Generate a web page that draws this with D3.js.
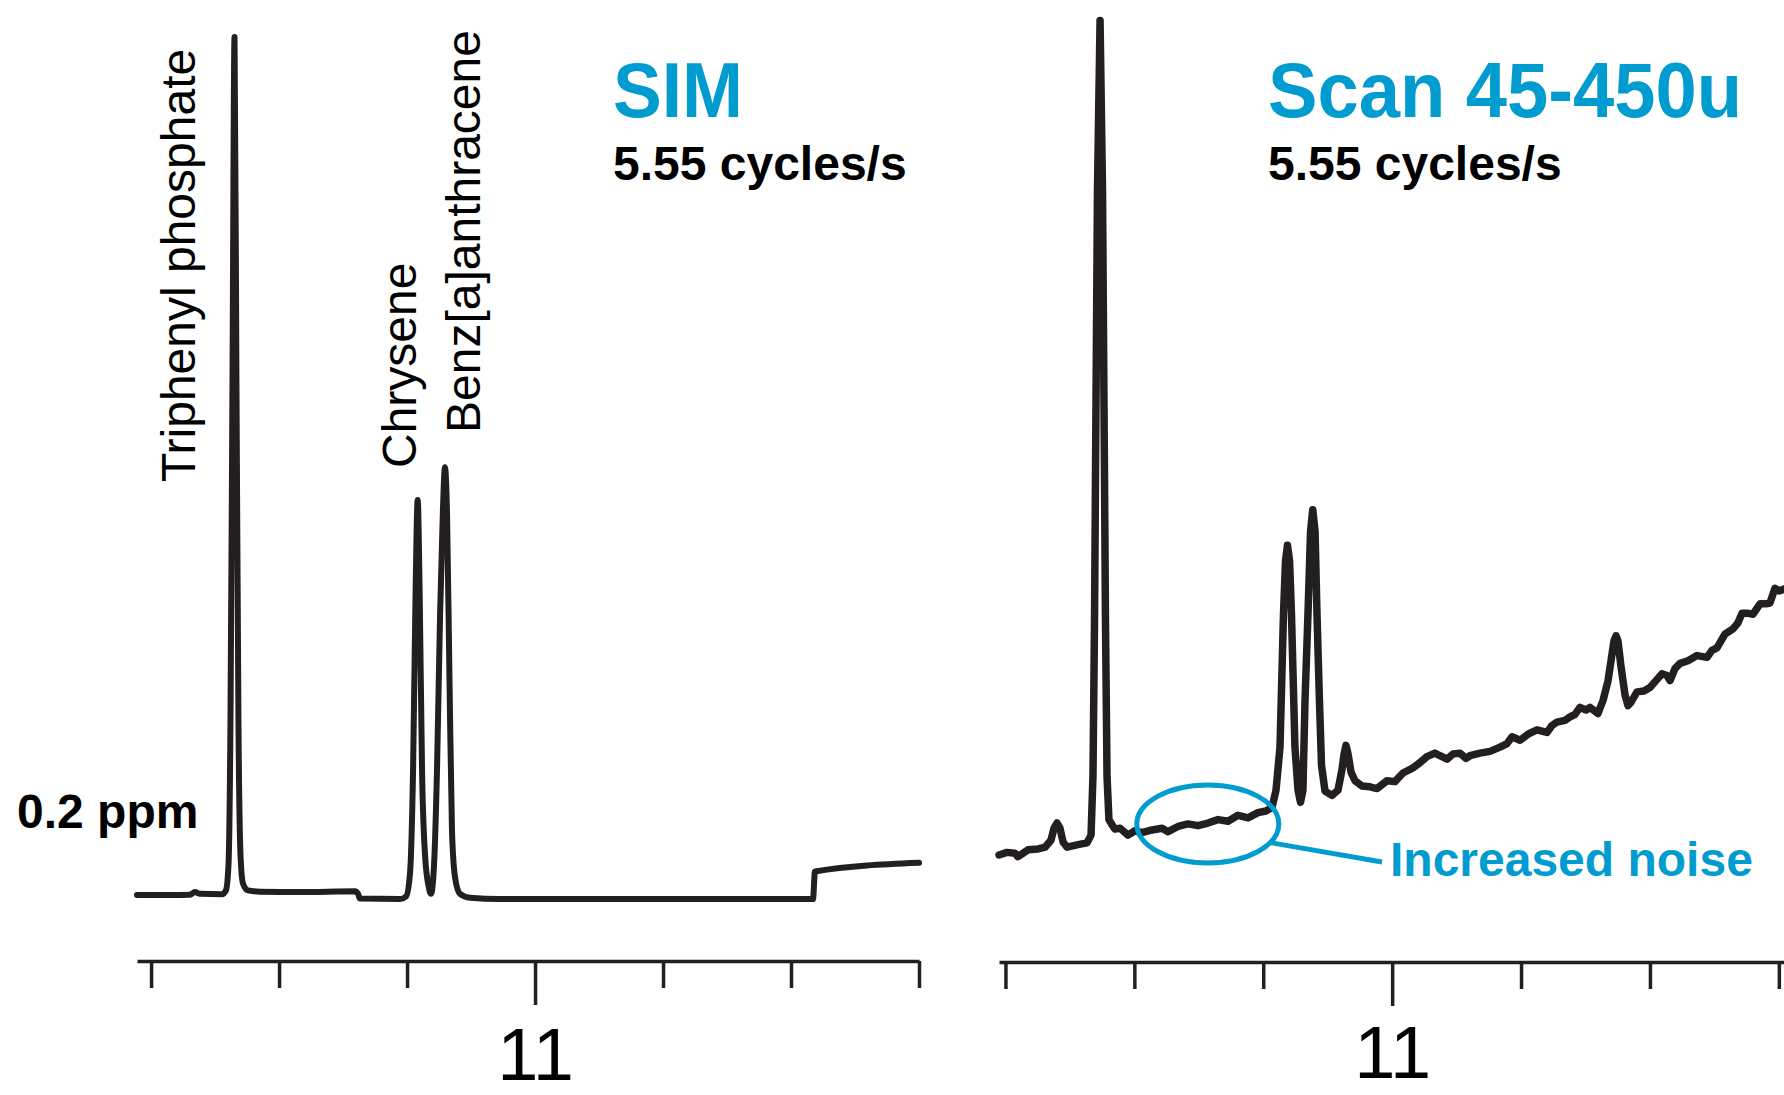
<!DOCTYPE html>
<html>
<head>
<meta charset="utf-8">
<script src="https://cdn.jsdelivr.net/npm/d3@7/dist/d3.min.js"></script>
<style>
  html, body { margin: 0; padding: 0; background: #fff; }
  svg { display: block; font-family: "Liberation Sans", Arial, Helvetica, sans-serif; }
</style>
</head>
<body>
<svg id="chart" width="1784" height="1095"></svg>
<script>
(function () {
    'use strict';

    // retention time ticks (min), one major at 11
    var tickTimes = [10.7, 10.8, 10.9, 11.0, 11.1, 11.2, 11.3];
    var majorTick = 11.0;

    // SIM trace: retention time (min) / relative abundance (%)
    var simTime = [10.6890, 10.7148, 10.7304, 10.7343, 10.7382, 10.7554, 10.7585, 10.7605,
        10.7620, 10.7636, 10.7652, 10.7667, 10.7683, 10.7699, 10.7718, 10.7757, 10.7851,
        10.8164, 10.8593, 10.8617, 10.8632, 10.8945, 10.8992, 10.9023, 10.9047, 10.9066,
        10.9083, 10.9099, 10.9117, 10.9141, 10.9168, 10.9187, 10.9211, 10.9234, 10.9258,
        10.9280, 10.9296, 10.9312, 10.9332, 10.9351, 10.9375, 10.9414, 10.9492, 10.9726,
        11.2172, 11.2187, 11.3000];
    var simAbund = [0.45, 0.45, 0.5, 0.8, 0.6, 0.55, 1.0, 4,
        20, 60, 100, 60, 20, 5, 1.8, 1.0, 0.85,
        0.8, 0.9, 0.6, 0.05, 0, 0.3, 3, 15, 35,
        46.3, 35, 15, 5, 1.5, 0.6, 4, 15, 33,
        45, 50.1, 45, 25, 8, 2.5, 0.6, 0.15, 0,
        0, 3.2, 4.2];

    // full scan trace
    var scanTime = [10.6950, 10.7012, 10.7074, 10.7097, 10.7175, 10.7253, 10.7307, 10.7353,
        10.7377, 10.7400, 10.7423, 10.7447, 10.7478, 10.7563, 10.7633, 10.7664, 10.7679,
        10.7691, 10.7700, 10.7714, 10.7734, 10.7753, 10.7767, 10.7776, 10.7788, 10.7803,
        10.7827, 10.7850, 10.7889, 10.7951, 10.8005, 10.8059, 10.8137, 10.8215, 10.8261,
        10.8339, 10.8416, 10.8494, 10.8571, 10.8649, 10.8727, 10.8804, 10.8882, 10.8959,
        10.9021, 10.9068, 10.9099, 10.9130, 10.9157, 10.9173, 10.9188, 10.9204, 10.9219,
        10.9246, 10.9270, 10.9289, 10.9308, 10.9324, 10.9347, 10.9367, 10.9384, 10.9402,
        10.9417, 10.9436, 10.9452, 10.9479, 10.9533, 10.9580, 10.9611, 10.9627, 10.9642,
        10.9658, 10.9681, 10.9712, 10.9766, 10.9828, 10.9883, 10.9960, 11.0022, 11.0084,
        11.0162, 11.0216, 11.0270, 11.0332, 11.0371, 11.0426, 11.0472, 11.0526, 11.0573,
        11.0604, 11.0682, 11.0759, 11.0837, 11.0891, 11.0930, 11.0992, 11.1054, 11.1124,
        11.1201, 11.1240, 11.1279, 11.1341, 11.1380, 11.1419, 11.1457, 11.1504, 11.1535,
        11.1597, 11.1636, 11.1675, 11.1698, 11.1721, 11.1737, 11.1752, 11.1775, 11.1807,
        11.1830, 11.1853, 11.1900, 11.1954, 11.2000, 11.2047, 11.2094, 11.2132, 11.2156,
        11.2194, 11.2233, 11.2295, 11.2365, 11.2443, 11.2481, 11.2520, 11.2582, 11.2644,
        11.2683, 11.2714, 11.2761, 11.2800, 11.2854, 11.2900, 11.2931, 11.2970, 11.3001,
        11.3040];
    var scanAbund = [2.9, 3.2, 3.1, 2.7, 3.5, 3.6, 3.8, 4.6,
        6.0, 6.6, 6.0, 4.4, 3.8, 4.1, 4.3, 5.2, 12,
        30, 50, 80, 99.6, 80, 50, 30, 12, 7,
        6.4, 5.9, 6.0, 5.2, 5.7, 5.5, 5.8, 6.0, 5.6,
        6.2, 6.5, 6.3, 6.6, 7.0, 6.8, 7.5, 7.2, 7.8,
        8.0, 8.4, 10.4, 15.4, 30.8, 37.0, 38.8, 37.0, 30.8,
        15.4, 10.4, 9.0, 10.4, 20.8, 30.8, 40.4, 42.9, 40.4,
        30.8, 20.8, 13.3, 10.3, 9.8, 10.4, 12.8, 14.6, 15.6,
        14.6, 12.5, 11.5, 10.9, 10.8, 10.6, 11.5, 11.4, 12.4,
        13.0, 13.6, 14.3, 14.7, 14.4, 14.0, 14.6, 14.7, 14.1,
        14.4, 14.7, 14.9, 15.4, 15.8, 16.6, 16.2, 16.9, 17.4,
        17.1, 17.9, 18.3, 18.5, 18.9, 19.2, 20.0, 19.7, 20.0,
        19.3, 20.8, 23.1, 25.4, 27.7, 28.3, 27.7, 24.8, 21.4,
        20.2, 20.6, 21.8, 21.9, 22.3, 23.1, 23.9, 23.7, 23.1,
        24.5, 25.1, 25.4, 26.0, 25.8, 26.6, 26.9, 28.5, 29.1,
        29.8, 30.9, 30.9, 30.8, 32.0, 32.0, 32.1, 33.8, 33.5,
        33.7];

    var peakNames = ['Triphenyl phosphate', 'Chrysene', 'Benz[a]anthracene'];
    var noiseSpot = [10.857, 6.5];   // time, abundance at the circled region

    var BLUE = '#009bcf',
        INK = '#231f20';

    var svg = d3.select('#chart');
    svg.append('rect').attr('width', 1784).attr('height', 1095).attr('fill', '#fff');

    function zipTrace(t, v) {
        return t.map(function (d, i) { return [d, v[i]]; });
    }

    function drawPanel(opts) {
        var x = d3.scaleLinear().domain(opts.xDomain).range(opts.xRange),
            y = d3.scaleLinear().domain([0, 100]).range(opts.yRange),
            g = svg.append('g');

        var line = d3.line()
            .x(function (d) { return x(d[0]); })
            .y(function (d) { return y(d[1]); })
            .curve(opts.curve);

        g.append('path')
            .datum(zipTrace(opts.time, opts.abund))
            .attr('d', line)
            .attr('fill', 'none')
            .attr('stroke', INK)
            .attr('stroke-width', opts.lineWidth)
            .attr('stroke-linejoin', 'round')
            .attr('stroke-linecap', 'round');

        var axis = d3.axisBottom(x)
            .tickValues(tickTimes)
            .tickSizeInner(27)
            .tickSizeOuter(0)
            .tickPadding(0)
            .tickFormat(function (d) { return Math.abs(d - majorTick) < 1e-9 ? '11' : ''; });

        var ax = g.append('g')
            .attr('transform', 'translate(0,' + opts.axisY + ')')
            .call(axis);

        ax.select('.domain').attr('stroke', INK).attr('stroke-width', 3.5);
        ax.selectAll('.tick line')
            .attr('stroke', INK)
            .attr('stroke-width', 3.5)
            .attr('y2', function (d) { return Math.abs(d - majorTick) < 1e-9 ? 44 : 27; });
        ax.selectAll('.tick text')
            .attr('y', opts.labelY)
            .attr('dy', 0)
            .attr('fill', '#000')
            .style('font-size', '74px')
            .style('font-family', '"Liberation Sans", Arial, sans-serif');

        return { x: x, y: y, g: g };
    }

    var sim = drawPanel({
        time: simTime, abund: simAbund,
        xDomain: [10.689, 11.3], xRange: [137, 919],
        yRange: [899, 37], axisY: 961, labelY: 119,
        lineWidth: 6, curve: d3.curveMonotoneX
    });

    var scan = drawPanel({
        time: scanTime, abund: scanAbund,
        xDomain: [10.695, 11.304], xRange: [999, 1784],
        yRange: [880, 17], axisY: 962, labelY: 116,
        lineWidth: 7.5, curve: d3.curveLinear
    });

    // rotated compound names on the SIM panel
    var nameSpots = [[195, 482], [416, 468], [480, 433]];
    sim.g.selectAll('text.peak')
        .data(peakNames)
        .enter().append('text')
        .attr('class', 'peak')
        .attr('transform', function (d, i) {
            return 'translate(' + nameSpots[i][0] + ',' + nameSpots[i][1] + ') rotate(-90)';
        })
        .attr('fill', '#000')
        .style('font-size', '48px')
        .text(function (d) { return d; });

    sim.g.append('text')
        .attr('x', 17).attr('y', 828)
        .attr('fill', '#000')
        .style('font-size', '48px').style('font-weight', 'bold')
        .text('0.2 ppm');

    function heading(x, title, titleLen) {
        svg.append('text')
            .attr('x', x).attr('y', 117)
            .attr('fill', BLUE)
            .attr('textLength', titleLen)
            .attr('lengthAdjust', 'spacingAndGlyphs')
            .style('font-size', '77px').style('font-weight', 'bold')
            .text(title);
        svg.append('text')
            .attr('x', x).attr('y', 180)
            .attr('fill', '#000')
            .style('font-size', '48px').style('font-weight', 'bold')
            .text('5.55 cycles/s');
    }

    heading(613, 'SIM', 130);
    heading(1268, 'Scan 45-450u', 474);

    // noise annotation
    var cx = scan.x(noiseSpot[0]),
        cy = scan.y(noiseSpot[1]),
        rx = 71, ry = 39,
        a = 0.5,
        textX = 1390, textY = 876;

    scan.g.append('ellipse')
        .attr('cx', cx).attr('cy', cy)
        .attr('rx', rx).attr('ry', ry)
        .attr('fill', 'none')
        .attr('stroke', BLUE)
        .attr('stroke-width', 5);

    scan.g.append('line')
        .attr('x1', cx + rx * Math.cos(a)).attr('y1', cy + ry * Math.sin(a))
        .attr('x2', textX - 8).attr('y2', textY - 14)
        .attr('stroke', BLUE)
        .attr('stroke-width', 5);

    scan.g.append('text')
        .attr('x', textX).attr('y', textY)
        .attr('fill', BLUE)
        .style('font-size', '48px').style('font-weight', 'bold')
        .text('Increased noise');
})();
</script>
</body>
</html>
